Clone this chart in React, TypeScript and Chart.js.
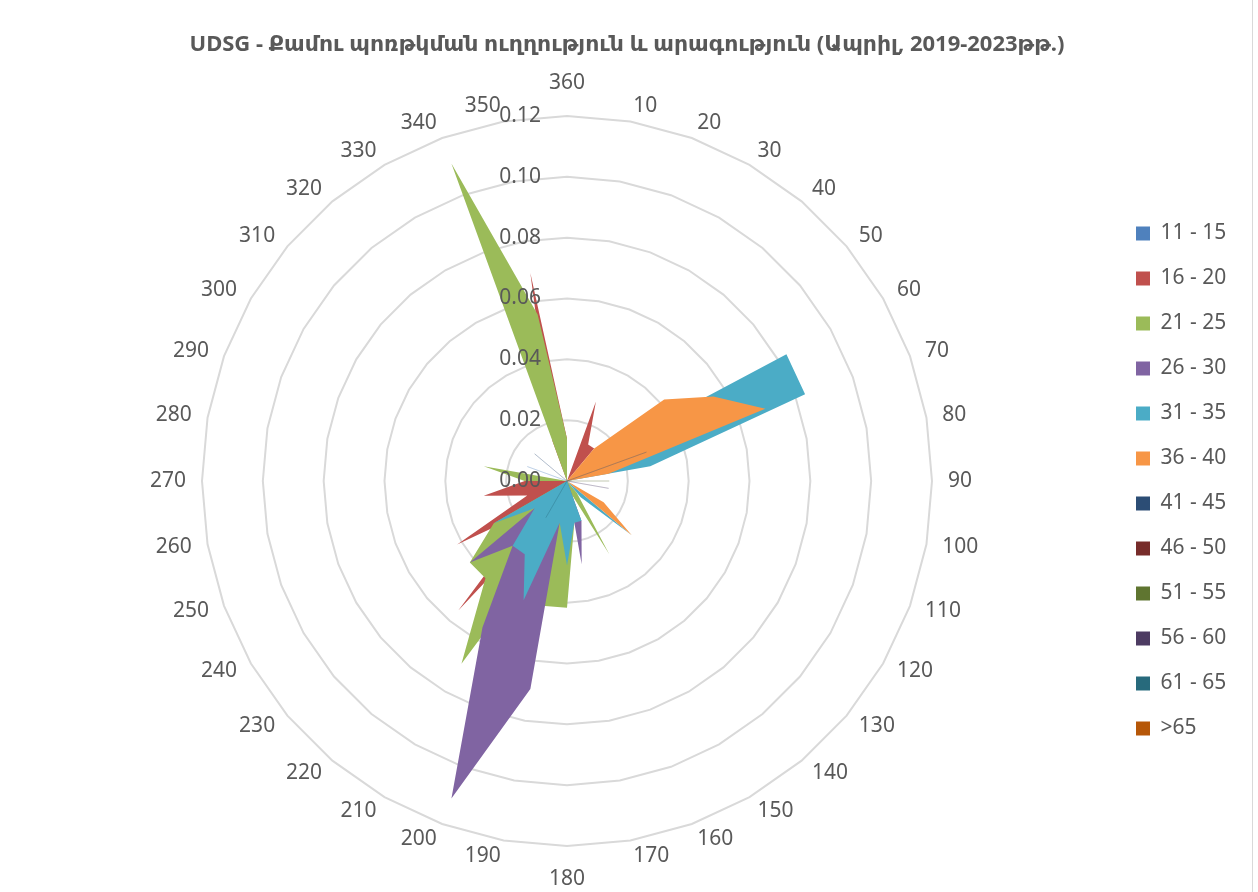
import React, { useEffect, useRef } from 'react';
import { Chart, registerables } from 'chart.js';

Chart.register(...registerables);

// ---------- data ----------
const categories = [
  '360', '10', '20', '30', '40', '50', '60', '70', '80', '90', '100', '110',
  '120', '130', '140', '150', '160', '170', '180', '190', '200', '210', '220', '230',
  '240', '250', '260', '270', '280', '290', '300', '310', '320', '330', '340', '350',
];

const tickLabels = ['0.00', '0.02', '0.04', '0.06', '0.08', '0.10', '0.12'];

const seriesNames = [
  '11 - 15', '16 - 20', '21 - 25', '26 - 30', '31 - 35', '36 - 40',
  '41 - 45', '46 - 50', '51 - 55', '56 - 60', '61 - 65', '>65',
];

const s11_15 = [
  0, 0, 0, 0, 0, 0,
  0, 0, 0, 0, 0, 0,
  0, 0, 0, 0, 0, 0,
  0, 0, 0, 0, 0, 0,
  0, 0, 0, 0, 0, 0.0139,
  0, 0, 0, 0, 0, 0,
];
const s16_20 = [
  0.0139, 0, 0.0278, 0.0139, 0.0139, 0,
  0, 0, 0, 0, 0, 0,
  0, 0, 0, 0, 0, 0,
  0, 0, 0, 0.0139, 0.0556, 0.0139,
  0.0417, 0.0139, 0.0278, 0.0139, 0, 0,
  0, 0, 0, 0, 0.0139, 0.0694,
];
const s21_25 = [
  0.0139, 0, 0, 0, 0, 0,
  0, 0, 0, 0, 0, 0,
  0, 0, 0.005, 0.0278, 0.005, 0.0139,
  0.0417, 0.0417, 0.0278, 0.0694, 0.0417, 0.0417,
  0.0278, 0, 0, 0.0139, 0.0278, 0,
  0, 0, 0, 0, 0.1111, 0.0556,
];
const s26_30 = [
  0, 0, 0, 0, 0, 0,
  0, 0, 0, 0, 0, 0,
  0, 0, 0, 0, 0.0139, 0.0278,
  0, 0.0694, 0.1111, 0.0556, 0.0278, 0.0417,
  0, 0, 0.0139, 0, 0, 0,
  0, 0, 0, 0, 0, 0,
];
const s31_35 = [
  0, 0, 0, 0, 0, 0.0139,
  0.0833, 0.0833, 0.0278, 0, 0, 0,
  0, 0.0278, 0.007, 0, 0.0139, 0.0139,
  0.0278, 0.0139, 0.0417, 0.0278, 0.0278, 0.0139,
  0.0278, 0, 0, 0, 0, 0,
  0, 0, 0, 0, 0, 0,
];
const s36_40 = [
  0, 0, 0, 0, 0.0139, 0.0417,
  0.0556, 0.0694, 0.0139, 0, 0, 0,
  0.0139, 0.0278, 0, 0, 0, 0,
  0, 0, 0, 0, 0, 0,
  0, 0, 0, 0, 0, 0,
  0, 0, 0, 0, 0, 0,
];
const s41_45 = [
  0, 0, 0, 0, 0, 0,
  0, 0.0278, 0, 0, 0, 0,
  0, 0, 0, 0, 0, 0,
  0, 0, 0, 0, 0, 0,
  0, 0, 0, 0, 0, 0,
  0, 0.0139, 0, 0, 0, 0,
];
const s46_50 = [
  0, 0, 0, 0, 0, 0,
  0, 0, 0, 0, 0, 0,
  0, 0, 0, 0, 0, 0,
  0, 0, 0, 0, 0, 0,
  0, 0, 0, 0, 0, 0,
  0, 0, 0, 0, 0, 0,
];
const s51_55 = [
  0, 0, 0, 0, 0, 0,
  0, 0, 0, 0.0139, 0, 0,
  0, 0, 0, 0, 0, 0,
  0, 0, 0, 0, 0, 0,
  0, 0, 0, 0, 0, 0,
  0, 0, 0, 0, 0, 0,
];
const s56_60 = [
  0, 0, 0, 0, 0, 0,
  0, 0, 0, 0, 0.0139, 0,
  0, 0, 0, 0, 0, 0,
  0, 0, 0, 0, 0, 0,
  0, 0, 0, 0, 0, 0,
  0, 0, 0, 0, 0, 0,
];
const s61_65 = [
  0, 0, 0, 0, 0, 0,
  0, 0, 0, 0, 0, 0,
  0, 0, 0, 0, 0, 0,
  0, 0, 0, 0.0139, 0, 0,
  0, 0, 0, 0, 0, 0,
  0, 0, 0, 0, 0, 0,
];
const sOver65 = [
  0, 0, 0, 0, 0, 0,
  0, 0, 0, 0, 0, 0,
  0, 0, 0, 0, 0, 0,
  0, 0, 0, 0, 0, 0,
  0, 0, 0, 0, 0, 0,
  0, 0, 0, 0, 0, 0,
];

const seriesValues = [
  s11_15, s16_20, s21_25, s26_30, s31_35, s36_40,
  s41_45, s46_50, s51_55, s56_60, s61_65, sOver65,
];

const TITLE = 'UDSG - Քամու պոռթկման ուղղություն և արագություն (Ապրիլ, 2019-2023թթ.)';

// ---------- style ----------
const seriesColors = [
  '#4F81BD', '#C0504D', '#9BBB59', '#8064A2', '#4BACC6', '#F79646',
  '#2C4D75', '#772C2A', '#5F7530', '#4D3B62', '#276A7C', '#B65708',
];
const majorSeries = [1, 2, 3, 4, 5];
const FONT = "'Noto Sans', 'DejaVu Sans', sans-serif";
const TEXT = '#595959';
const LABEL_SIZE = 21;

function rgba(hex: string, a: number) {
  const n = parseInt(hex.slice(1), 16);
  return `rgba(${(n >> 16) & 255}, ${(n >> 8) & 255}, ${n & 255}, ${a})`;
}

const customLabels = {
  id: 'customLabels',
  afterDatasetsDraw(chart: any) {
    const scale = chart.scales.r;
    const ctx = chart.ctx;
    ctx.save();
    ctx.font = `${LABEL_SIZE}px ${FONT}`;
    ctx.fillStyle = TEXT;
    ctx.textBaseline = 'middle';
    // value axis labels
    ctx.textAlign = 'right';
    tickLabels.forEach((lab) => {
      const r = scale.getDistanceFromCenterForValue(parseFloat(lab));
      ctx.fillText(lab, scale.xCenter - 26, scale.yCenter - r);
    });
    // category labels around the radar
    ctx.textAlign = 'center';
    categories.forEach((lab, i) => {
      const w = ctx.measureText(lab).width;
      const ang = scale.getIndexAngle(i);
      const s = Math.sin(ang);
      const c = Math.cos(ang);
      const p = scale.getPointPosition(i, scale.drawingArea + 16);
      let x = p.x;
      let y = p.y;
      if (Math.abs(s) < 1e-6) {
        y += c > 0 ? -17 : 17;
      } else {
        x += (s > 0 ? 1 : -1) * (w / 2);
      }
      ctx.fillText(lab, x, y);
    });
    ctx.restore();
  },
};

export default function App() {
  const canvasRef = useRef<HTMLCanvasElement | null>(null);

  useEffect(() => {
    if (!canvasRef.current) return;
    const n = seriesNames.length;
    const datasets = seriesNames.map((name, i) => {
      const major = majorSeries.includes(i);
      return {
        label: name,
        data: seriesValues[i],
        backgroundColor: seriesColors[i],
        borderColor: major ? 'rgba(0,0,0,0)' : rgba(seriesColors[i], 0.2),
        borderWidth: major ? 0 : 1,
        fill: true,
        pointRadius: 0,
        pointHoverRadius: 0,
        pointHitRadius: 0,
        tension: 0,
        order: n - i,
      };
    });

    const chart = new Chart(canvasRef.current, {
      type: 'radar',
      data: { labels: categories, datasets },
      plugins: [customLabels],
      options: {
        animation: false,
        responsive: false,
        events: [],
        layout: { padding: { top: 10, left: 22, right: 26, bottom: 46 } },
        scales: {
          r: {
            min: 0,
            max: 0.12,
            ticks: { stepSize: 0.02, display: false },
            grid: { color: '#D9D9D9', lineWidth: 2, circular: false },
            angleLines: { display: false },
            pointLabels: { display: false },
          },
        },
        plugins: {
          title: {
            display: true,
            text: TITLE,
            color: TEXT,
            font: { family: FONT, size: 22, weight: 'bold', lineHeight: '26px' },
            padding: { top: 22, bottom: 58 },
          },
          legend: {
            display: true,
            position: 'right',
            align: 'center',
            fullSize: false,
            maxWidth: 120,
            labels: {
              color: TEXT,
              font: { family: FONT, size: LABEL_SIZE },
              boxWidth: 14,
              boxHeight: 14,
              padding: 24,
              sort: (a: any, b: any) => a.datasetIndex - b.datasetIndex,
              generateLabels: (ch: any) =>
                ch.data.datasets.map((ds: any, i: number) => ({
                  text: ds.label,
                  fillStyle: seriesColors[i],
                  strokeStyle: 'rgba(0,0,0,0)',
                  lineWidth: 0,
                  hidden: false,
                  datasetIndex: i,
                  fontColor: TEXT,
                })),
            },
          },
          tooltip: { enabled: false },
        },
      },
    } as any);

    return () => chart.destroy();
  }, []);

  return (
    <div style={{ position: 'fixed', left: 0, top: 0, width: 1258, height: 892, background: '#ffffff' }}>
      <canvas ref={canvasRef} width={1258} height={892} style={{ width: 1258, height: 892, display: 'block' }} />
      <div style={{ position: 'absolute', left: 1252, top: 0, width: 1, height: 892, background: '#D9D9D9' }} />
    </div>
  );
}
